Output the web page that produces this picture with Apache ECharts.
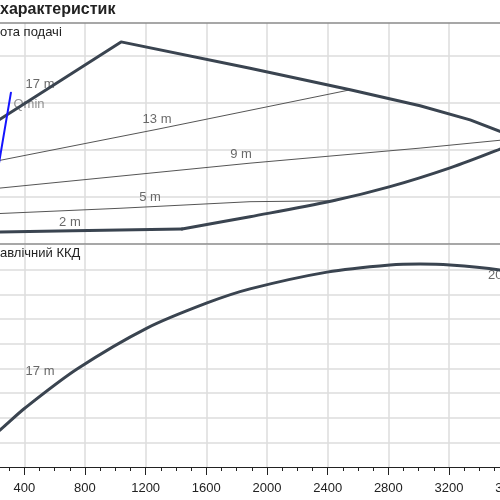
<!DOCTYPE html>
<html>
<head>
<meta charset="utf-8">
<script src="https://cdn.jsdelivr.net/npm/echarts@6/dist/echarts.min.js"></script>
<style>
  html, body { margin: 0; padding: 0; background: #fff; }
  #chart { width: 500px; height: 500px; }
</style>
</head>
<body>
<div id="chart"></div>
<script>
// поле характеристик: напір (вгорі) і гідравлічний ККД (внизу)

// межі робочого поля, [подача, напір]
const lowerFlat = [[0, 1.2], [720, 1.4], [1440, 1.6]];
const lowerEdge = [[1440, 1.6], [1888, 2.9], [2435, 4.6], [2811, 6.1], [3207, 8.1], [3536, 10.1], [3681, 11.1]];
const upperEdge = [[0, 10.8], [1038, 21.5], [1888, 18.7], [2548, 16.4], [3009, 14.7], [3339, 13.2], [3681, 11.1]];

// тонкі криві
const curve13 = [[240, 8.9], [1275, 12.2], [2548, 16.4]];
const curve9 = [[210, 5.9], [1888, 8.6], [3009, 10.2], [3640, 11.2]];
const curve5 = [[178, 3.2], [1031, 3.8], [1888, 4.5], [2450, 4.6]];
const qMin = [[157, 1.3], [312, 16.1]];

// ККД, %
const efficiency = [[200, 13.3], [240, 15.0], [405, 23.9], [748, 39.7], [1209, 56.3], [1605, 66.5], [1888, 72.2],
  [2396, 79.0], [2811, 81.9], [3009, 82.3], [3207, 81.9], [3536, 79.9], [3681, 78.0]];

// підписи
const headLabels = [['17 m', 504, 17.0], ['13 m', 1275, 13.2], ['9 m', 1829, 9.5], ['5 m', 1229, 5.0], ['2 m', 701, 2.3]];
const qMinLabel = [['Qmin', 431, 14.8]];
const effLabels = [['17 m', 504, 38.9], ['20 m', 3553, 77.8]];

const flowMin = 0;
const flowMax = 3600;
const flowStep = 400;

const myChart = echarts.init(document.getElementById('chart'));

const gridLine = { show: true, lineStyle: { color: '#dcdcdc', width: 1.5 } };
const dark = '#3a4450';

function textSeries(list, xi, yi, color) {
  return {
    type: 'scatter',
    xAxisIndex: xi,
    yAxisIndex: yi,
    symbolSize: 0,
    silent: true,
    data: list.map(function (d) { return { name: d[0], value: [d[1], d[2]] }; }),
    label: {
      show: true,
      position: 'inside',
      formatter: '{b}',
      fontSize: 13,
      fontFamily: 'Liberation Sans',
      color: color
    }
  };
}

function lineSeries(data, xi, yi, color, width, smooth) {
  return {
    type: 'line',
    xAxisIndex: xi,
    yAxisIndex: yi,
    data: data,
    showSymbol: false,
    symbol: 'none',
    smooth: smooth,
    lineStyle: { color: color, width: width, cap: 'round', join: 'round' }
  };
}

const option = {
  animation: false,
  backgroundColor: '#fff',
  textStyle: { fontFamily: 'Liberation Sans' },
  title: [
    { text: 'характеристик', left: 0, top: 2, padding: 0, textStyle: { fontSize: 16, fontWeight: 'bold', color: '#222' } },
    { text: 'ота подачі', left: 0, top: 26, padding: 0, textStyle: { fontSize: 13, fontWeight: 'normal', color: '#222' } },
    { text: 'авлічний ККД', left: 0, top: 247, padding: 0, textStyle: { fontSize: 13, fontWeight: 'normal', color: '#222' } }
  ],
  grid: [
    { left: -36.4, right: -9.7, top: 23, height: 221, containLabel: false, outerBoundsMode: 'none' },
    { left: -36.4, right: -9.7, top: 245, height: 222, containLabel: false, outerBoundsMode: 'none' }
  ],
  xAxis: [
    {
      type: 'value', gridIndex: 0, min: flowMin, max: flowMax, interval: flowStep,
      axisLine: { show: true, lineStyle: { color: '#8a8a8a', width: 1.5 } },
      axisTick: { show: false }, axisLabel: { show: false },
      splitLine: gridLine
    },
    {
      type: 'value', gridIndex: 0, position: 'top', min: flowMin, max: flowMax, interval: flowStep,
      axisLine: { show: true, lineStyle: { color: '#8a8a8a', width: 1.5 } },
      axisTick: { show: false }, axisLabel: { show: false }, splitLine: { show: false }
    },
    {
      type: 'value', gridIndex: 1, min: flowMin, max: flowMax, interval: flowStep,
      axisLine: { show: true, lineStyle: { color: '#222', width: 1.2 } },
      axisTick: { show: true, length: 8, lineStyle: { color: '#222' } },
      minorTick: { show: true, splitNumber: 4, length: 4, lineStyle: { color: '#222' } },
      axisLabel: { fontSize: 13, color: '#222', margin: 15, formatter: function (v) { return String(v); } },
      splitLine: gridLine
    }
  ],
  yAxis: [
    {
      type: 'value', gridIndex: 0, min: 0, max: 23.51, interval: 5,
      axisLine: { show: false }, axisTick: { show: false }, axisLabel: { show: false },
      splitLine: { show: true, showMinLine: false, showMaxLine: false, lineStyle: { color: '#dcdcdc', width: 1.5 } }
    },
    {
      type: 'value', gridIndex: 1, min: 0, max: 90, interval: 10,
      axisLine: { show: false }, axisTick: { show: false }, axisLabel: { show: false },
      splitLine: { show: true, showMinLine: false, showMaxLine: false, lineStyle: { color: '#dcdcdc', width: 1.5 } }
    }
  ],
  series: [
    lineSeries(curve13, 0, 0, '#555', 1, false),
    lineSeries(curve9, 0, 0, '#555', 1, false),
    lineSeries(curve5, 0, 0, '#555', 1, false),
    lineSeries(lowerFlat, 0, 0, dark, 3, false),
    lineSeries(lowerEdge, 0, 0, dark, 3, 0.35),
    lineSeries(upperEdge, 0, 0, dark, 3, false),
    lineSeries(qMin, 0, 0, '#1414ff', 2, false),
    lineSeries(efficiency, 2, 1, dark, 3, 0.3),
    textSeries(headLabels, 0, 0, '#444'),
    textSeries(qMinLabel, 0, 0, '#777'),
    textSeries(effLabels, 2, 1, '#444')
  ]
};

myChart.setOption(option);
</script>
</body>
</html>
